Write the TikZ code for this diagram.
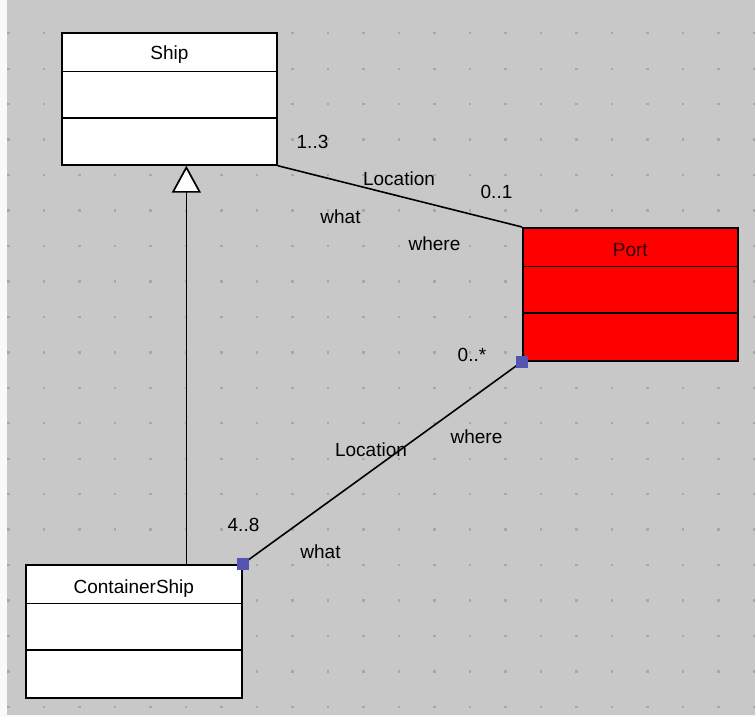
\documentclass[tikz,border=0pt]{standalone}
\usepackage{fontspec}
\setmainfont{Liberation Sans}
\usetikzlibrary{arrows.meta}
\definecolor{canvas}{RGB}{200,200,200}
\definecolor{griddot}{RGB}{168,168,168}
\definecolor{handleblue}{RGB}{84,84,178}
\begin{document}
\begin{tikzpicture}[x=1pt, y=-1pt,
  cls/.style={draw, line width=1.7pt, minimum width=215pt, minimum height=132pt,
    anchor=north west, inner sep=0pt},
  lbl/.style={font=\fontsize{19}{22}\selectfont, inner sep=0pt},
  handle/.style={fill=handleblue, minimum size=12pt, inner sep=0pt}]
  \useasboundingbox (0,0) rectangle (755,717);
  % canvas and grid
  \fill[white!90!canvas] (0,0) rectangle (755,717);
  \fill[canvas] (7,0) rectangle (755,715);
  \foreach \i in {0,...,21}
    \foreach \j in {0,...,19}
      \fill[griddot] (8.3+35.5*\i-1.2, 33.3+35.45*\j-1.2) rectangle ++(2.4,2.4);
  % classes
  \node[cls, fill=white] (ship) at (61,32) {};
  \node[cls, fill=white, minimum width=216pt, minimum height=133pt] (cship) at (25,564) {};
  \node[cls, fill=red, minimum height=133pt] (port) at (522,227) {};
  \foreach \c in {ship, cship, port}{
    \draw[line width=1.7pt] ([yshift=-39.5pt]\c.north west) -- ([yshift=-39.5pt]\c.north east);
    \draw[line width=1.7pt] ([yshift=-86pt]\c.north west) -- ([yshift=-86pt]\c.north east);
  }
  \node[lbl] (shipname) at ([yshift=-23pt]ship.north) {Ship};
  \node[lbl] (cshipname) at ([yshift=-24.5pt]cship.north) {ContainerShip};
  \node[lbl, text=black!80!red] (portname) at ([yshift=-23pt]port.north) {Port};
  % generalization
  \coordinate (gentop) at ([xshift=17pt]ship.south);
  \draw[line width=1.7pt, -{Triangle[fill=white, width=29pt, length=27pt]}]
    (cship.north -| gentop) -- (gentop);
  % first association
  \draw[line width=1.6pt] (ship.south east) -- (port.north west);
  \node[lbl] (mult13) at (312.5,142) {1..3};
  \node[lbl] (locA) at (399,179) {Location};
  \node[lbl] (mult01) at (496.5,191.5) {0..1};
  \node[lbl] (whatA) at (340.5,217) {what};
  \node[lbl] (whereA) at (434.5,244) {where};
  % second association
  \draw[line width=1.6pt] (port.south west) -- (cship.north east);
  \node[handle] (portend) at (port.south west) {};
  \node[handle] (cshipend) at (cship.north east) {};
  \node[lbl] (mult0s) at (472,355) {0..*};
  \node[lbl] (whereB) at (476.5,437) {where};
  \node[lbl] (locB) at (371,450) {Location};
  \node[lbl] (mult48) at (243.5,525) {4..8};
  \node[lbl] (whatB) at (320.5,552) {what};
\end{tikzpicture}
\end{document}
